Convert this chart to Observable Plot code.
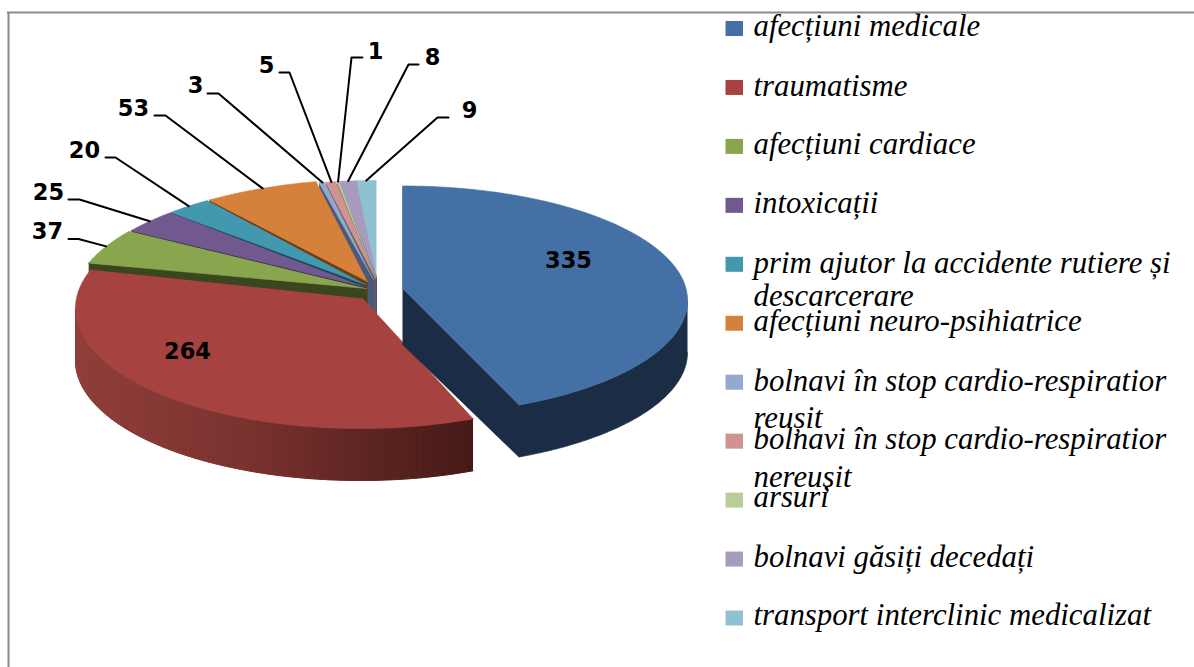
<!DOCTYPE html>
<html>
<head>
<meta charset="utf-8">
<script src="https://cdn.jsdelivr.net/npm/d3@7"></script>
<script src="https://cdn.jsdelivr.net/npm/@observablehq/plot@0.6"></script>
<style>html,body{margin:0;padding:0;background:#fff}svg{display:block}</style>
</head>
<body>
<div id="chart"></div>
<script>
// ---- data
const categories = ["afecțiuni medicale","traumatisme","afecțiuni cardiace","intoxicații",
  "prim ajutor la accidente rutiere și descarcerare","afecțiuni neuro-psihiatrice",
  "bolnavi în stop cardio-respiratior reușit","bolnavi în stop cardio-respiratior nereușit",
  "arsuri","bolnavi găsiți decedați","transport interclinic medicalizat"];
const values = [335,264,37,25,20,53,3,5,1,8,9];
const topColors = ["#4570a5","#a64340","#89a54e","#71588f","#4298af","#d6813b","#93a9cf","#d19392","#b9cd96","#a99bbd","#8fc1d3"];
const wallColors = ["#1b2d45","#7a322e","#3a461f","#35264a","#1c4a58","#6e3f15","#4a5a78","#5e5a68","#5a6a4a","#4e4a5e","#4a5d6f"];

// ---- layout of the 3-D pie
const W = 1194, H = 667;
const back = {cx:376, cy:302, a:301, b:122};
const ellipses = [{cx:402,cy:300,a:285,b:114.5},{cx:360,cy:308,a:285,b:120},
  back,back,back,back,back,back,back,back,back];
const tips = [[402,288],[362,298],[366,288],[363,286],[365,284],[367,281],[373,279],[375,278],[375,277],[376,277],[376,277]];
const rimShiftX = [0,0,-3,-1,0,2,1,1,1,1,0];
const rimShiftY = [0,0,0,-0.5,-1,-1.5,0,0,0,0,0];
const endTrim = [0.8,0,0,0,0,0.8,0.2,0.2,0,0.2,0];
const tipDepth = [56,52,36,36,36,36,36,36,36,36,36];
const rimDepth = 52;
const warp = t => t - 5.3*Math.sin(t*Math.PI/180);

const total = d3.sum(values);
const cum = [0, ...d3.cumsum(values)];
const angle = i => cum[i]/total*360;
const rim = (i,t) => {
  const e = ellipses[i], r = warp(t)*Math.PI/180;
  return [e.cx + rimShiftX[i] + e.a*Math.sin(r), e.cy + rimShiftY[i] - e.b*Math.cos(r)];
};
const arc = (i,t0,t1) => [...d3.range(t0,t1,0.5), t1].map(t => rim(i,t));

const polys = [];
let pid = 0;
const addPoly = (pts, fill) => { const id = pid++; pts.forEach(([x,y]) => polys.push({id,x,y,fill})); };

const order = [10,9,8,7,6,5,4,3,2,1,0];
const redShade = d3.scaleLinear().domain([75,250,472]).range(["#93403c","#79322e","#451a17"]);
for (const i of order) {
  const t0 = angle(i), t1 = angle(i+1) - endTrim[i], tip = tips[i];
  if (i === 1) {
    // outer wall of the large slice, shaded strip by strip over a solid base
    const end = 265;
    const whole = arc(i,t0,end);
    addPoly([...whole, ...whole.slice().reverse().map(([x,y]) => [x,y+rimDepth])], "#6a2a27");
    const ts = [...d3.range(t0,end,1), end];
    d3.pairs(ts).forEach(([u,v]) => {
      const a = rim(i,u), b = rim(i,v);
      addPoly([a,b,[b[0],b[1]+rimDepth],[a[0],a[1]+rimDepth]], redShade((a[0]+b[0])/2));
    });
  } else if (i === 0) {
    const outer = arc(i,95.3,t1), e = rim(i,t1);
    addPoly([...outer, ...outer.slice().reverse().map(([x,y]) => [x,y+rimDepth])], wallColors[i]);
    addPoly([tip,e,[e[0],e[1]+rimDepth],[tip[0],tip[1]+tipDepth[i]]], wallColors[i]);
  } else {
    const s = rim(i,t0);
    addPoly([s,tip,[tip[0],tip[1]+tipDepth[i]],[s[0],s[1]+tipDepth[i]]], wallColors[i]);
  }
  addPoly([tip, ...arc(i,t0,t1)], topColors[i]);
}

// ---- value labels
const labelX = [568,187,47,48,84,133,195,266,375,432,469];
const labelY = [260,351,231,192,150,108,85,65,51,57,110];
const table = values.map((v,i) => ({v, x:labelX[i], y:labelY[i]}));

// ---- leader lines from the label elbow to the middle of the slice rim
const elbowStart = [null,null,[68,238.5],[68,199],[105,157],[154,115],[207,93],[279,72],[362,57],[418,64],[448,117]];
const elbowKnee  = [null,null,[78,238.5],[79,199],[115,157],[165,115],[218,93],[289,72],[351,57],[408,64],[437,117]];
const leaders = [];
values.forEach((v,i) => {
  if (!elbowStart[i]) return;
  const end = rim(i,(angle(i)+angle(i+1))/2);
  [elbowStart[i],elbowKnee[i],end].forEach(([x,y]) => leaders.push({i,x,y}));
});

// ---- legend
const legendRowY = categories.map((c,i) => 28.5 + i*58.95);
const legendLines = [
  ["afecțiuni medicale",35],["traumatisme",95],["afecțiuni cardiace",153],["intoxicații",212],
  ["prim ajutor la accidente rutiere și",272],["descarcerare",305],["afecțiuni neuro-psihiatrice",330],
  ["bolnavi în stop cardio-respiratior",390],["reușit",427],
  ["bolnavi în stop cardio-respiratior",448],["nereușit",486],["arsuri",506],
  ["bolnavi găsiți decedați",566],["transport interclinic medicalizat",624]
].map(([text,y]) => ({text,y}));
const swatches = categories.map((c,i) => ({c, fill:topColors[i], y1:legendRowY[i]-7.5, y2:legendRowY[i]+7.5}));

const chart = Plot.plot({
  width:W, height:H, margin:0,
  x:{domain:[0,W], range:[0,W], axis:null},
  y:{domain:[0,H], range:[0,H], axis:null},
  color:{type:"identity"},
  style:{background:"#fff"},
  marks:[
    Plot.ruleX([8],{y1:12,y2:H,stroke:"#8a8a8a",strokeWidth:2}),
    Plot.ruleY([12],{x1:7,x2:W,stroke:"#8a8a8a",strokeWidth:2}),
    Plot.line(polys,{x:"x",y:"y",z:"id",fill:d=>d.fill,stroke:d=>d.fill,strokeWidth:0.7}),
    Plot.line(leaders,{x:"x",y:"y",z:"i",stroke:"#000",strokeWidth:2}),
    Plot.text(table,{x:"x",y:"y",text:d=>String(d.v),fontFamily:"DejaVu Sans",fontWeight:"bold",fontSize:22.5,fill:"#000"}),
    Plot.rect(swatches,{x1:725.5,x2:743,y1:"y1",y2:"y2",fill:"fill"}),
    Plot.text(legendLines,{x:753,y:"y",text:"text",textAnchor:"start",lineAnchor:"bottom",
      fontFamily:"Liberation Serif",fontStyle:"italic",fontSize:30.8,fill:"#000"})
  ]
});
document.getElementById("chart").appendChild(chart);
</script>
</body>
</html>
